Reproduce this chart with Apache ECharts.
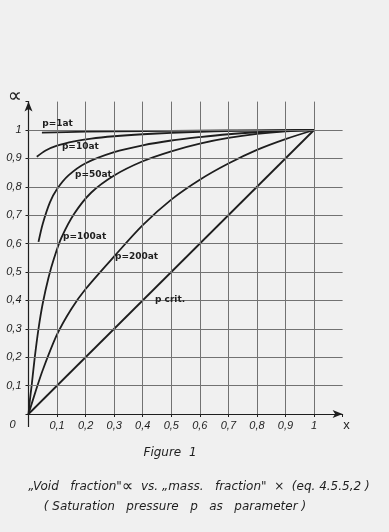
<!DOCTYPE html>
<html>
<head>
<meta charset="utf-8">
<script src="https://cdn.jsdelivr.net/npm/echarts@6/dist/echarts.min.js"></script>
<style>
html,body{margin:0;padding:0;background:#f0f0f0;}
#main{width:389px;height:532px;}
</style>
</head>
<body>
<div id="main"></div>
<script>
// ---- data ----
const tickValues = [0.1, 0.2, 0.3, 0.4, 0.5, 0.6, 0.7, 0.8, 0.9, 1.0];

const p1X   = [0.047, 0.2, 0.4, 0.6, 0.8, 1.0];
const p1A   = [0.991, 0.994, 0.996, 0.998, 0.999, 1.0];

const p10X  = [0.029, 0.06, 0.1, 0.16, 0.22, 0.3, 0.4, 0.5, 0.65, 0.8, 1.0];
const p10A  = [0.906, 0.928, 0.945, 0.96, 0.97, 0.978, 0.985, 0.99, 0.995, 0.998, 1.0];

const p50X  = [0.035, 0.05, 0.075, 0.1, 0.14, 0.2, 0.3, 0.4, 0.5, 0.6, 0.7, 0.8, 0.9, 1.0];
const p50A  = [0.606, 0.67, 0.745, 0.792, 0.84, 0.883, 0.922, 0.946, 0.963, 0.975, 0.985, 0.992, 0.997, 1.0];

const p100X = [0, 0.005, 0.011, 0.022, 0.035, 0.05, 0.07, 0.09, 0.115, 0.16, 0.22, 0.3, 0.4, 0.5, 0.6, 0.7, 0.8, 0.9, 1.0];
const p100A = [0, 0.05, 0.1, 0.2, 0.3, 0.39, 0.48, 0.55, 0.62, 0.705, 0.78, 0.84, 0.89, 0.925, 0.952, 0.972, 0.986, 0.995, 1.0];

const p200X = [0, 0.025, 0.05, 0.1, 0.15, 0.2, 0.3, 0.4, 0.5, 0.6, 0.7, 0.8, 0.9, 1.0];
const p200A = [0, 0.08, 0.155, 0.28, 0.37, 0.44, 0.555, 0.665, 0.755, 0.825, 0.882, 0.93, 0.968, 1.0];

const pcritX = [0, 1];
const pcritA = [0, 1];

const curveNames = ['p=1at', 'p=10at', 'p=50at', 'p=100at', 'p=200at', 'p crit.'];

// ---- build ----
function pairs(xs, ys) { return xs.map((x, i) => [x, ys[i]]); }
function fmt(v) {
  if (Math.abs(v - 1) < 1e-9) return '1';
  if (Math.abs(v) < 1e-9) return '';
  return v.toFixed(1).replace('.', ',');
}

const INK = '#1e1e1e';
const GRIDC = '#727272';
const labelFont = { fontFamily: 'DejaVu Sans', fontSize: 9, fontWeight: 'bold', color: INK };

function curve(name, xs, ys, labelCoord, smooth) {
  return {
    name: name,
    type: 'line',
    data: pairs(xs, ys),
    smooth: smooth,
    showSymbol: false,
    symbol: 'none',
    z: 3,
    lineStyle: { color: INK, width: 1.8 },
    markPoint: {
      symbol: 'circle',
      symbolSize: 0,
      silent: true,
      label: Object.assign({ show: true, position: 'right', distance: 0, formatter: name }, labelFont),
      data: [{ coord: labelCoord }]
    }
  };
}

const chart = echarts.init(document.getElementById('main'), null, { renderer: 'canvas' });

const axisLabelStyle = { fontFamily: 'Liberation Sans', fontStyle: 'italic', fontSize: 11, color: INK };

const option = {
  backgroundColor: '#f0f0f0',
  animation: false,
  grid: { left: 28.5, right: 46.4, top: 101.6, bottom: 118 },
  xAxis: {
    type: 'value', min: 0, max: 1.1, interval: 0.1,
    axisLine: { show: true, lineStyle: { color: INK, width: 1.2 }, symbol: ['none', 'arrow'], symbolSize: [6, 10] },
    axisTick: { show: true, length: 3, lineStyle: { color: INK } },
    splitLine: { show: false },
    axisLabel: Object.assign({ margin: 6, formatter: v => (v > 1.05 ? '' : fmt(v)) }, axisLabelStyle)
  },
  yAxis: {
    type: 'value', min: 0, max: 1.1, interval: 0.1,
    axisLine: { show: true, lineStyle: { color: INK, width: 1.2 }, symbol: ['none', 'arrow'], symbolSize: [6, 10] },
    axisTick: { show: true, length: 3, lineStyle: { color: INK } },
    splitLine: { show: false },
    axisLabel: Object.assign({ margin: 7, formatter: v => (v > 1.05 ? '' : fmt(v)) }, axisLabelStyle)
  },
  series: [
    {
      name: 'grid', type: 'line', data: [[0, 0]], showSymbol: false, symbol: 'none', z: 1,
      lineStyle: { opacity: 0 },
      markLine: {
        silent: true, symbol: 'none', animation: false,
        label: { show: false },
        lineStyle: { color: GRIDC, width: 1, type: 'solid' },
        data: tickValues.map(v => ({ xAxis: v })).concat(tickValues.map(v => ({ yAxis: v })))
      }
    },
    curve(curveNames[0], p1X, p1A, [0.048, 1.024], 0.3),
    curve(curveNames[1], p10X, p10A, [0.117, 0.940], 0.3),
    curve(curveNames[2], p50X, p50A, [0.163, 0.842], 0.3),
    curve(curveNames[3], p100X, p100A, [0.121, 0.623], 0.3),
    curve(curveNames[4], p200X, p200A, [0.303, 0.553], 0.3),
    curve(curveNames[5], pcritX, pcritA, [0.443, 0.401], false)
  ]
};
chart.setOption(option);

const o = chart.convertToPixel({ gridIndex: 0 }, [0, 0]);
const xEnd = chart.convertToPixel({ gridIndex: 0 }, [1.1, 0]);
const yEnd = chart.convertToPixel({ gridIndex: 0 }, [0, 1.1]);
function capText(x, y, parts) {
  return {
    type: 'text', x: x, y: y,
    style: {
      text: parts, fill: INK, align: 'center', verticalAlign: 'middle',
      fontFamily: 'DejaVu Sans', fontStyle: 'italic', fontSize: 12,
      rich: { a: { fontFamily: 'DejaVu Sans', fontSize: 16, fill: INK } }
    }
  };
}
chart.setOption({
  graphic: [
    { type: 'line', shape: { x1: o[0], y1: o[1], x2: o[0], y2: o[1] + 13 }, style: { stroke: INK, lineWidth: 1.2 } },
    { type: 'text', x: o[0] - 16, y: o[1] + 11, style: { text: '0', font: 'italic 11px "Liberation Sans"', fill: INK, align: 'center', verticalAlign: 'middle' } },
    { type: 'text', x: xEnd[0] + 4, y: o[1] + 11, style: { text: 'x', font: '13px "Liberation Sans"', fill: INK, align: 'center', verticalAlign: 'middle' } },
    { type: 'text', x: 15, y: yEnd[1] - 5, style: { text: '∝', font: '20px "DejaVu Sans"', fill: INK, align: 'center', verticalAlign: 'middle' } },
    capText(170, 453, 'Figure  1'),
    capText(199, 487, '„Void   fraction"{a|∝}  vs. „mass.   fraction"  ×  (eq. 4.5.5,2 )'),
    capText(175, 507, '( Saturation   pressure   p   as   parameter )')
  ]
});
</script>
</body>
</html>
